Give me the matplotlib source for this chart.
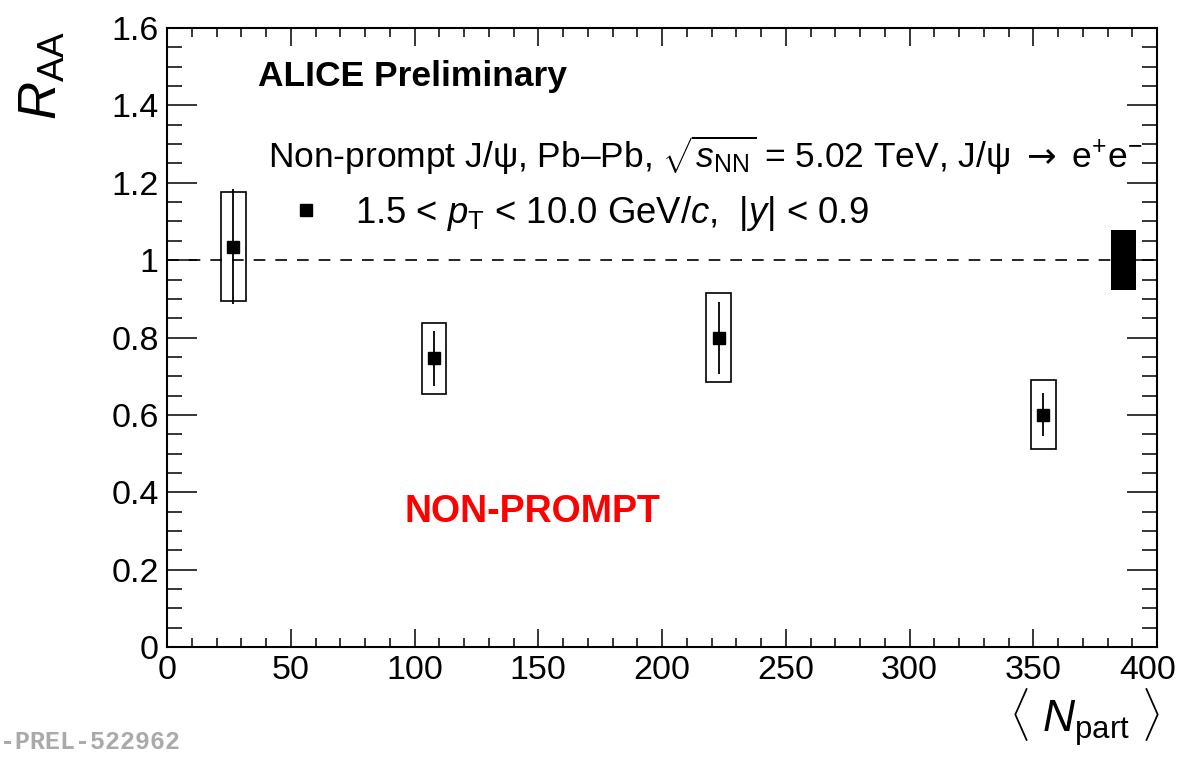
import numpy as np
import matplotlib
matplotlib.use('Agg')
import matplotlib.pyplot as plt
import matplotlib.transforms as mtransforms
from matplotlib.lines import Line2D
from matplotlib.ticker import MultipleLocator, FormatStrFormatter

plt.rcParams['font.family'] = ['Liberation Sans', 'DejaVu Sans']
plt.rcParams['mathtext.fontset'] = 'custom'
plt.rcParams['mathtext.rm'] = 'Liberation Sans'
plt.rcParams['mathtext.it'] = 'Liberation Sans:italic'
plt.rcParams['mathtext.bf'] = 'Liberation Sans:bold'
plt.rcParams['mathtext.sf'] = 'DejaVu Sans'

# non-prompt J/psi RAA vs <Npart>
npart = [26.8, 107.9, 222.9, 354.1]
raa = [1.035, 0.746, 0.799, 0.601]
stat_err = [0.148, 0.070, 0.093, 0.056]
syst_err = [0.141, 0.092, 0.115, 0.090]
box_width = 10.0
glob_x = 386.5
glob_err = 0.078

xticks = [0, 50, 100, 150, 200, 250, 300, 350, 400]
yticks = [0, 0.2, 0.4, 0.6, 0.8, 1.0, 1.2, 1.4, 1.6]

fig = plt.figure(figsize=(11.83, 7.58), dpi=100)
ax = fig.add_axes([0.1412, 0.1464, 0.8369, 0.8166])

# reference line at 1
ax.axhline(1.0, ls=(0, (7, 6)), lw=1.2, color='black', zorder=1)

# systematic boxes
ax.bar(npart, 2*np.array(syst_err), bottom=np.array(raa)-np.array(syst_err),
       width=box_width, fill=False, edgecolor='black', linewidth=1.2, zorder=2)
# global uncertainty
ax.bar(glob_x, 2*glob_err, bottom=1-glob_err, width=box_width, color='black', zorder=2)

# points with stat errors
ax.errorbar(npart, raa, yerr=stat_err, fmt='s', color='black', ms=9,
            elinewidth=1.3, capsize=0, zorder=3)

ax.set_xlim(0, 400)
ax.set_ylim(0, 1.6)
ax.set_xticks(xticks)
ax.set_yticks(yticks)
ax.xaxis.set_minor_locator(MultipleLocator(10))
ax.yaxis.set_minor_locator(MultipleLocator(0.05))
ax.yaxis.set_major_formatter(FormatStrFormatter('%g'))

for s in ax.spines.values():
    s.set_linewidth(1.5)
ax.tick_params(which='both', direction='in', top=True, right=True, width=1.1, labelsize=24.5)
ax.tick_params(axis='y', which='major', length=21.6, pad=6)
ax.tick_params(axis='y', which='minor', length=10.8)
ax.tick_params(axis='x', which='major', length=13, pad=6)
ax.tick_params(axis='x', which='minor', length=6.5)

# last x label sits a bit left, like in ROOT
lab = ax.get_xticklabels()[-1]
lab.set_transform(lab.get_transform() + mtransforms.ScaledTranslation(-9/100, 0, fig.dpi_scale_trans))

handle = Line2D([], [], ls='none', marker='s', color='black', ms=9)
ax.legend([handle], [r'1.5 < $p_{\rm T}$ < 10.0 GeV/$c$,  |$y$| < 0.9'],
          loc='center left', bbox_to_anchor=(0.129, 0.701), frameon=False,
          fontsize=26.3, handlelength=0.6, handletextpad=1.05, borderpad=0,
          borderaxespad=0)

ax.text(0.092, 0.921, 'ALICE Preliminary', transform=ax.transAxes, fontsize=25.5,
        fontweight='bold', va='center', ha='left')
ax.text(0.102, 0.795,
        r'Non-prompt J/ψ, Pb–Pb, $\sqrt{s_{\rm NN}}$ = 5.02 TeV, J/ψ $\mathsf{\rightarrow}$ e$^{+}$e$^{-}$',
        transform=ax.transAxes, fontsize=25.5, va='center', ha='left')
ax.text(0.240, 0.218, 'NON-PROMPT', transform=ax.transAxes, fontsize=27,
        fontweight='bold', color='red', va='center', ha='left')

fig.text(0.036, 1-75/758, r'$R_{\rm AA}$', rotation=90, ha='center', va='center', fontsize=38)
fig.text(1085/1183, 1-718/758, r'$\langle\ N_{\rm part}\ \rangle$', ha='center', va='center', fontsize=32)
fig.text(0.0, 1-742/758, '-PREL-522962', ha='left', va='center',
         family='Liberation Mono', fontweight='bold', color='#aaaaaa', fontsize=18)

fig.savefig('out.png', dpi=100)
